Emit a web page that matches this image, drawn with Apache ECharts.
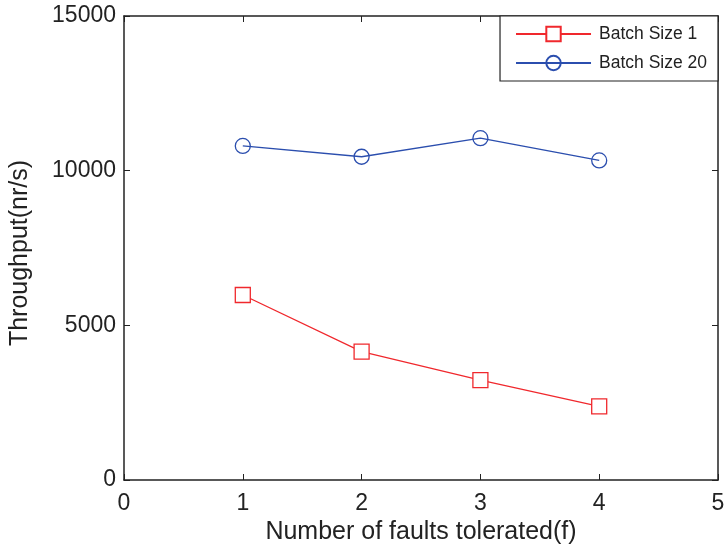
<!DOCTYPE html>
<html>
<head>
<meta charset="utf-8">
<script src="https://cdn.jsdelivr.net/npm/echarts@6/dist/echarts.min.js"></script>
<style>html,body{margin:0;padding:0;background:#fff}#c{width:726px;height:546px}</style>
</head>
<body>
<div id="c"></div>
<script>
const faults = [1, 2, 3, 4];
const batch1 = [5980, 4150, 3230, 2380];
const batch20 = [10800, 10450, 11050, 10330];
const seriesNames = ['Batch Size 1', 'Batch Size 20'];
const xTicks = [0, 1, 2, 3, 4, 5];
const yTicks = [0, 5000, 10000, 15000];

const chart = echarts.init(document.getElementById('c'));
const font = "'Liberation Sans', Arial, sans-serif";
const axisCommon = {
  axisLine: {show: true, onZero: false, lineStyle: {color: '#222', width: 1.5}},
  axisTick: {show: true, inside: true, length: 6, lineStyle: {color: '#222', width: 1}},
  splitLine: {show: false}
};
chart.setOption({
  animation: false,
  backgroundColor: '#fff',
  grid: {left: 124, right: 8, top: 16, bottom: 66, containLabel: false, outerBoundsMode: 'none'},
  legend: {
    data: seriesNames,
    orient: 'vertical',
    right: 8, top: 16,
    itemWidth: 75, itemHeight: 18, itemGap: 11,
    padding: [9, 11, 9, 15],
    borderColor: '#222', borderWidth: 1.2,
    backgroundColor: '#fff',
    textStyle: {fontFamily: font, fontSize: 17.5, color: '#222', padding: [2, 0, 0, 3]}
  },
  xAxis: [
    Object.assign({type: 'value', min: 0, max: 5, interval: 1, position: 'bottom',
      name: 'Number of faults tolerated(f)', nameLocation: 'middle', nameGap: 40,
      nameTextStyle: {fontFamily: font, fontSize: 25, color: '#222'},
      axisLabel: {fontFamily: font, fontSize: 23, color: '#222', margin: 12,
        formatter: v => xTicks.includes(v) ? String(v) : ''}}, axisCommon),
    Object.assign({type: 'value', min: 0, max: 5, interval: 1, position: 'top',
      axisLabel: {show: false}}, axisCommon)
  ],
  yAxis: [
    Object.assign({type: 'value', min: 0, max: 15000, interval: 5000, position: 'left',
      name: 'Throughput(nr/s)', nameLocation: 'middle', nameGap: 91,
      nameTextStyle: {fontFamily: font, fontSize: 25, color: '#222', padding: [0, 10, 0, 0]},
      axisLabel: {fontFamily: font, fontSize: 23, color: '#222', margin: 8, padding: [5, 0, 0, 0],
        formatter: v => yTicks.includes(v) ? String(v) : ''}}, axisCommon),
    Object.assign({type: 'value', min: 0, max: 15000, interval: 5000, position: 'right',
      axisLabel: {show: false}}, axisCommon)
  ],
  series: [
    {name: seriesNames[0], type: 'line', data: faults.map((f, i) => [f, batch1[i]]),
     symbol: 'rect', symbolSize: 15, showAllSymbol: true,
     itemStyle: {color: '#fff', borderColor: '#f0282d', borderWidth: 1.3},
     lineStyle: {color: '#f0282d', width: 1.3}},
    {name: seriesNames[1], type: 'line', data: faults.map((f, i) => [f, batch20[i]]),
     symbol: 'circle', symbolSize: 15, showAllSymbol: true,
     itemStyle: {color: 'rgba(255,255,255,0)', borderColor: '#2b4eae', borderWidth: 1.3},
     lineStyle: {color: '#2b4eae', width: 1.3}}
  ]
});
</script>
</body>
</html>
